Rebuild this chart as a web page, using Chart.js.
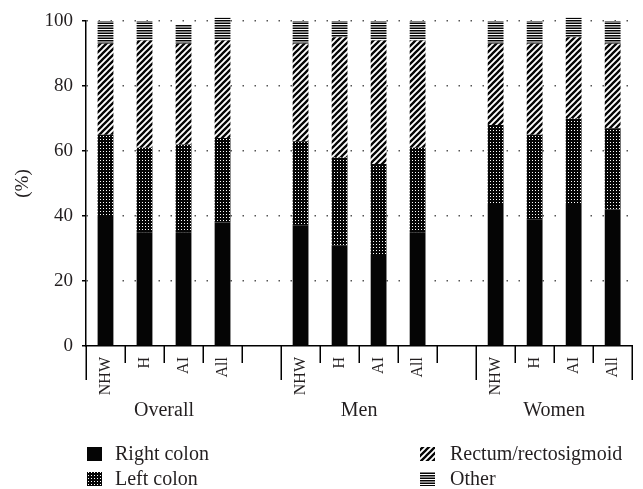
<!DOCTYPE html>
<html>
<head>
<meta charset="utf-8">
<script src="https://cdn.jsdelivr.net/npm/chart.js@4/dist/chart.umd.min.js"></script>
<style>
  html, body { margin: 0; padding: 0; background: #fff; }
  #wrap { width: 643px; height: 489px; position: relative; }
</style>
</head>
<body>
<div id="wrap"><canvas id="c"></canvas></div>
<script>
// Tumour site distribution (%) by group and ethnicity
const groupNames = ['Overall', 'Men', 'Women'];
const subgroupLabels = ['NHW', 'H', 'AI', 'All'];
const seriesNames = ['Right colon', 'Left colon', 'Rectum/rectosigmoid', 'Other'];

// one value per bar: Overall (NHW, H, AI, All), Men (...), Women (...)
const rightColon = [40, 35, 35, 38, 37, 31, 28, 35, 44, 39, 44, 42];
const leftColon  = [25, 26, 27, 26, 26, 27, 28, 26, 24, 26, 26, 25];
const rectum     = [28, 33, 31, 30, 30, 37, 38, 33, 25, 28, 25, 26];
const other      = [ 7,  6,  6,  7,  7,  5,  6,  6,  7,  7,  6,  7];

const yTickValues = [0, 20, 40, 60, 80, 100];

const SERIF = '"Liberation Serif", "DejaVu Serif", serif';
const INK = '#231f20';

// category axis: four bars per group, an empty slot between groups
const labels = [];
groupNames.forEach((g, gi) => {
  subgroupLabels.forEach(s => labels.push(s));
  if (gi < groupNames.length - 1) labels.push('');
});
function spread(values) {
  const out = [];
  groupNames.forEach((g, gi) => {
    subgroupLabels.forEach((s, si) => out.push(values[gi * subgroupLabels.length + si]));
    if (gi < groupNames.length - 1) out.push(null);
  });
  return out;
}

// fill patterns
function tile(w, h, draw) {
  const c = document.createElement('canvas');
  c.width = w; c.height = h;
  const x = c.getContext('2d');
  draw(x, w, h);
  return x.createPattern(c, 'repeat');
}
const solidFill = '#050505';
const dotFill = tile(3, 3, (x) => {
  x.fillStyle = '#050505'; x.fillRect(0, 0, 3, 3);
  x.fillStyle = '#fff'; x.fillRect(1, 1, 1, 1);
});
const hatchFill = tile(6, 6, (x, w, h) => {
  x.fillStyle = '#fff'; x.fillRect(0, 0, w, h);
  x.strokeStyle = '#050505'; x.lineWidth = 2.3; x.lineCap = 'square';
  x.beginPath();
  x.moveTo(-1, h + 1); x.lineTo(w + 1, -1);
  x.moveTo(-1, 1); x.lineTo(1, -1);
  x.moveTo(w - 1, h + 1); x.lineTo(w + 1, h - 1);
  x.stroke();
});
const lineFill = tile(4, 5, (x) => {
  x.fillStyle = '#fff'; x.fillRect(0, 0, 4, 5);
  x.fillStyle = '#050505';
  x.fillRect(0, 0, 4, 1.5);
  x.fillRect(0, 2.5, 4, 1.5);
});
const fills = [solidFill, dotFill, hatchFill, lineFill];
const seriesValues = [rightColon, leftColon, rectum, other];

const datasets = seriesNames.map((name, i) => ({
  label: name,
  data: spread(seriesValues[i]),
  backgroundColor: fills[i],
  borderWidth: 0,
  barPercentage: 0.405,
  categoryPercentage: 1,
  clip: false
}));

// tick marks below the category axis, longer at group boundaries,
// plus group names and the two-column legend
const annotations = {
  id: 'annotations',
  afterDraw(chart) {
    const ctx = chart.ctx;
    const xs = chart.scales.x;
    const n = labels.length;
    const step = (xs.right - xs.left) / n;
    const y0 = xs.top;
    ctx.save();
    ctx.strokeStyle = '#000';
    ctx.lineWidth = 1.5;
    for (let i = 0; i <= n; i++) {
      const x = Math.round(xs.left + i * step) + 0.25;
      const long = (i % (subgroupLabels.length + 1) === 0) || i === n;
      ctx.beginPath();
      ctx.moveTo(x, y0);
      ctx.lineTo(x, y0 + (long ? 34 : 17));
      ctx.stroke();
    }

    // group names centred under their bars
    ctx.fillStyle = INK;
    ctx.font = '20px ' + SERIF;
    ctx.textAlign = 'center';
    ctx.textBaseline = 'middle';
    groupNames.forEach((g, gi) => {
      const first = gi * (subgroupLabels.length + 1);
      const last = first + subgroupLabels.length - 1;
      const cx = (xs.getPixelForValue(first) + xs.getPixelForValue(last)) / 2;
      ctx.fillText(g, cx, 411);
    });

    // legend: column-major, two rows
    const cols = [87, 420];
    const rows = [454, 479];
    ctx.textAlign = 'left';
    seriesNames.forEach((name, i) => {
      const col = i < 2 ? 0 : 1;
      const row = i % 2;
      const lx = cols[col], ly = rows[row];
      ctx.fillStyle = fills[i];
      ctx.fillRect(lx, ly - 7, 15, 14);
      ctx.fillStyle = INK;
      ctx.fillText(name, lx + 28 + col * 2, ly + 1);
    });
    ctx.restore();
  }
};

new Chart(document.getElementById('c'), {
  type: 'bar',
  data: { labels, datasets },
  options: {
    responsive: true,
    maintainAspectRatio: false,
    animation: false,
    layout: { padding: { top: 21, right: 4, bottom: 0, left: 0 } },
    plugins: { legend: { display: false }, tooltip: { enabled: false } },
    scales: {
      x: {
        stacked: true,
        offset: true,
        grid: { display: false, drawTicks: false },
        border: { display: true, color: '#000', width: 1.5 },
        ticks: {
          autoSkip: false, maxRotation: 90, minRotation: 90,
          padding: 11, color: INK, font: { family: SERIF, size: 16 }
        },
        afterFit(s) { s.height = 143; }
      },
      y: {
        stacked: true,
        min: 0, max: 100,
        afterBuildTicks(s) { s.ticks = yTickValues.map(v => ({ value: v })); },
        ticks: { padding: 9, color: INK, font: { family: SERIF, size: 19 } },
        grid: {
          color: c => (c.tick && c.tick.value === 0) ? 'rgba(0,0,0,0)' : '#555',
          lineWidth: 1.5,
          tickColor: '#000', tickLength: 4, tickWidth: 1.5
        },
        border: { display: true, color: '#000', width: 1.5, dash: [1.5, 10.5] },
        title: {
          display: true, text: '(%)', color: INK,
          font: { family: SERIF, size: 19 }, padding: { top: 12, bottom: 0 }
        },
        afterFit(s) { s.width = 86; }
      }
    }
  },
  plugins: [annotations]
});
</script>
</body>
</html>
